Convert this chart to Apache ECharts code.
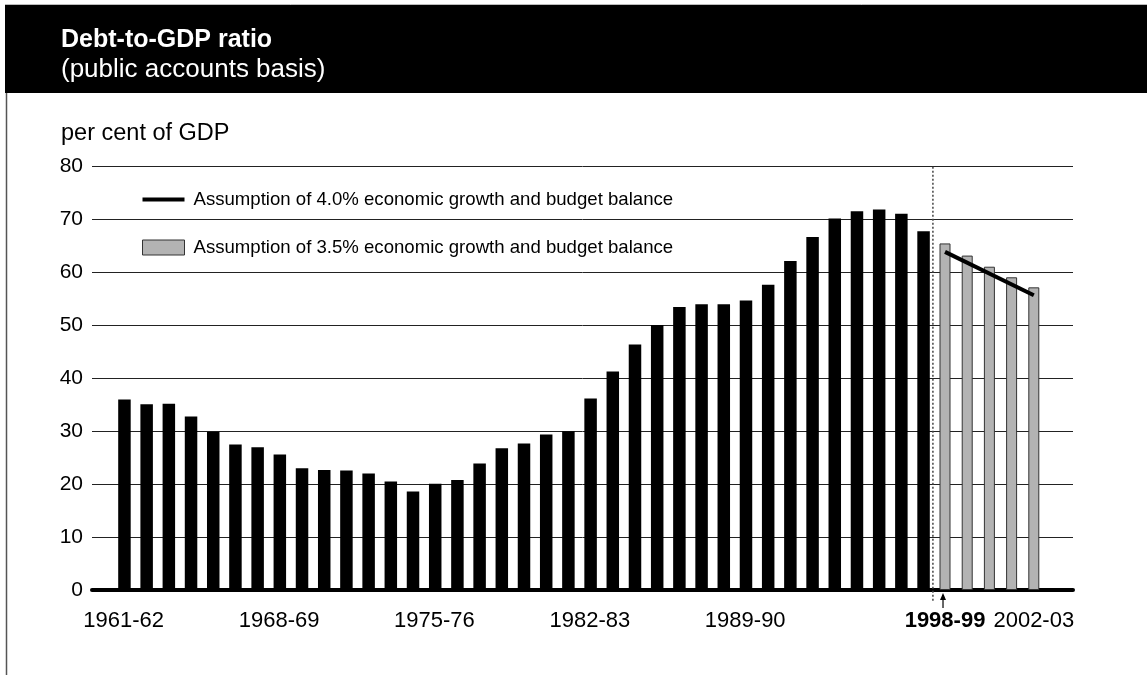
<!DOCTYPE html>
<html>
<head>
<meta charset="utf-8">
<script src="https://cdn.jsdelivr.net/npm/echarts@6/dist/echarts.min.js"></script>
<style>
  html, body { margin: 0; padding: 0; background: #fff; }
  #chart { width: 1147px; height: 675px; }
</style>
</head>
<body>
<div id="chart"></div>
<script>
// fiscal years on the category axis
var years = ['1961-62', '1962-63', '1963-64', '1964-65', '1965-66', '1966-67', '1967-68',
  '1968-69', '1969-70', '1970-71', '1971-72', '1972-73', '1973-74', '1974-75',
  '1975-76', '1976-77', '1977-78', '1978-79', '1979-80', '1980-81', '1981-82',
  '1982-83', '1983-84', '1984-85', '1985-86', '1986-87', '1987-88', '1988-89',
  '1989-90', '1990-91', '1991-92', '1992-93', '1993-94', '1994-95', '1995-96',
  '1996-97', '1997-98', '1998-99', '1999-00', '2000-01', '2001-02', '2002-03'];

// labels shown under the axis
var shownLabels = ['1961-62', '1968-69', '1975-76', '1982-83', '1989-90', '1998-99', '2002-03'];

// actual debt-to-GDP, 1961-62 to 1997-98
var actual = [36.0, 35.1, 35.2, 32.8, 29.9, 27.5, 27.0, 25.6, 23.0, 22.7,
  22.6, 22.0, 20.5, 18.6, 20.1, 20.8, 23.9, 26.8, 27.7, 29.4,
  30.0, 36.2, 41.3, 46.4, 50.1, 53.5, 54.0, 54.0, 54.7, 57.7,
  62.2, 66.7, 70.2, 71.6, 71.9, 71.1, 67.8];

// projection, 3.5% growth, 1998-99 to 2002-03
var proj35 = [65.5, 63.2, 61.1, 59.1, 57.2];

// projection, 4.0% growth (line from first to last projection year)
var proj40Years = ['1998-99', '2002-03'];
var proj40 = [63.9, 55.7];

var name40 = 'Assumption of 4.0% economic growth and budget balance';
var name35 = 'Assumption of 3.5% economic growth and budget balance';

var FONT = '"Liberation Sans", Arial, sans-serif';

var actualData = years.map(function (y, i) { return i < actual.length ? actual[i] : '-'; });
var proj35Data = years.map(function (y, i) {
  var k = i - actual.length;
  return k >= 0 && k < proj35.length ? proj35[k] : '-';
});
var proj40Data = years.map(function (y) {
  var k = proj40Years.indexOf(y);
  return k >= 0 ? proj40[k] : '-';
});

var chart = echarts.init(document.getElementById('chart'));

var option = {
  animation: false,
  backgroundColor: '#fff',
  textStyle: { fontFamily: FONT },
  title: [
    {
      text: 'Debt-to-GDP ratio',
      subtext: '(public accounts basis)',
      left: 56,
      top: 23,
      itemGap: 4,
      textStyle: { color: '#fff', fontSize: 25, fontWeight: 'bold', fontFamily: FONT },
      subtextStyle: { color: '#fff', fontSize: 26, fontFamily: FONT }
    },
    {
      text: 'per cent of GDP',
      left: 56,
      top: 117,
      textStyle: { color: '#000', fontSize: 23.5, fontWeight: 'normal', fontFamily: FONT }
    }
  ],
  legend: {
    orient: 'vertical',
    left: 137,
    top: 185,
    itemWidth: 42,
    itemHeight: 15,
    itemGap: 29,
    selectedMode: false,
    textStyle: { fontSize: 18.6, color: '#000', fontFamily: FONT, padding: [0, 0, 0, 4] },
    data: [
      { name: name40, icon: 'path://M0,0h42v4h-42z', itemStyle: { color: '#000' } },
      { name: name35, icon: 'rect', itemStyle: { color: '#b3b3b3', borderColor: '#333', borderWidth: 1 } }
    ]
  },
  grid: [
    { left: 92, right: 74, top: 166.7, bottom: 85 },
    { left: 112.6, right: 102.1, top: 166.7, bottom: 85 }
  ],
  xAxis: [
    {
      gridIndex: 0, type: 'value', min: 0, max: 1,
      axisLine: { show: true, onZero: false, lineStyle: { color: '#000', width: 4 } },
      axisTick: { show: false },
      axisLabel: { show: false },
      splitLine: { show: false }
    },
    {
      gridIndex: 1, type: 'category', data: years,
      axisLine: { show: false },
      axisTick: { show: false },
      axisLabel: {
        interval: function (index, value) { return shownLabels.indexOf(value) >= 0; },
        margin: 20,
        fontSize: 22,
        color: '#000',
        fontFamily: FONT,
        formatter: function (v) { return v === '1998-99' ? '{b|' + v + '}' : v; },
        rich: { b: { fontWeight: 'bold', fontSize: 22, color: '#000', fontFamily: FONT } }
      }
    }
  ],
  yAxis: [
    {
      gridIndex: 0, type: 'value', min: 0, max: 80, interval: 10,
      axisLine: { show: false },
      axisTick: { show: false },
      axisLabel: { fontSize: 21, color: '#000', margin: 9, fontFamily: FONT },
      splitLine: { lineStyle: { color: '#222', width: 1 } }
    },
    { gridIndex: 1, type: 'value', min: 0, max: 80, interval: 10, show: false }
  ],
  series: [
    {
      name: 'Actual', type: 'bar', xAxisIndex: 1, yAxisIndex: 1,
      data: actualData, barWidth: 12.5, barGap: '-100%',
      itemStyle: { color: '#000' }
    },
    {
      name: name35, type: 'bar', xAxisIndex: 1, yAxisIndex: 1,
      data: proj35Data, barWidth: 11, barGap: '-100%',
      itemStyle: { color: '#b3b3b3', borderColor: '#333', borderWidth: 1 }
    },
    {
      name: name40, type: 'line', xAxisIndex: 1, yAxisIndex: 1,
      data: proj40Data, connectNulls: true, showSymbol: false, z: 5,
      lineStyle: { color: '#000', width: 4 },
      itemStyle: { color: '#000' }
    }
  ]
};

chart.setOption(option);

// frame, header band, divider line and arrow under the first projection year
var y0 = chart.convertToPixel({ yAxisIndex: 1 }, 0);
var yTop = chart.convertToPixel({ yAxisIndex: 1 }, 80);
var xLastActual = chart.convertToPixel({ xAxisIndex: 1 }, years[actual.length - 1]);
var xFirstProj = chart.convertToPixel({ xAxisIndex: 1 }, years[actual.length]);
var xDiv = (xLastActual + xFirstProj) / 2 - 1;

chart.setOption({
  graphic: [
    { id: 'topline', type: 'line', z: -1, shape: { x1: 5, y1: 4.5, x2: 1147, y2: 4.5 }, style: { stroke: '#bbb', lineWidth: 1 } },
    { id: 'header', type: 'rect', z: -1, shape: { x: 5, y: 5, width: 1142, height: 88 }, style: { fill: '#000' } },
    { id: 'leftline', type: 'line', shape: { x1: 6.5, y1: 93, x2: 6.5, y2: 675 }, style: { stroke: '#555', lineWidth: 1.5 } },
    { id: 'divider', type: 'line', z: 10, shape: { x1: xDiv, y1: yTop, x2: xDiv, y2: y0 + 12 }, style: { stroke: '#444', lineWidth: 1.5, lineDash: [2, 2] } },
    { id: 'arrowStem', type: 'line', z: 10, shape: { x1: xFirstProj - 2, y1: y0 + 18, x2: xFirstProj - 2, y2: y0 + 5 }, style: { stroke: '#000', lineWidth: 1.2 } },
    { id: 'arrowHead', type: 'polygon', z: 10, shape: { points: [[xFirstProj - 2, y0 + 3], [xFirstProj - 5, y0 + 10], [xFirstProj + 1, y0 + 10]] }, style: { fill: '#000' } }
  ]
});
</script>
</body>
</html>
